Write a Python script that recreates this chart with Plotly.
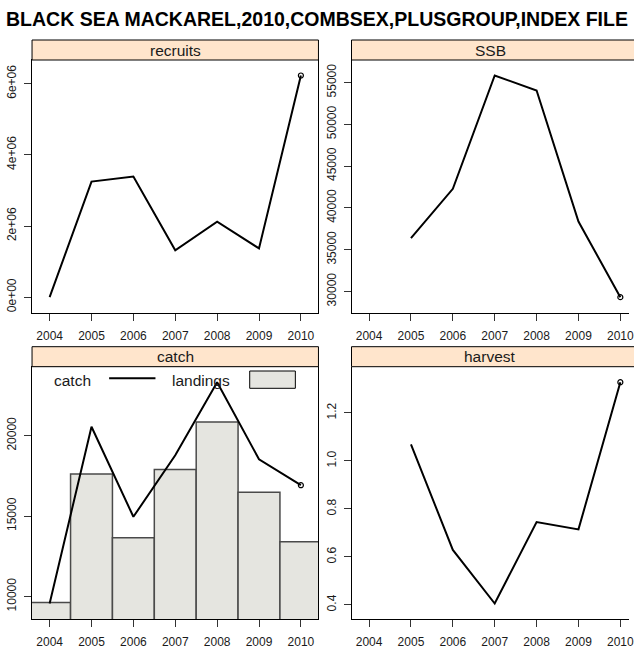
import plotly.graph_objects as go

# ---- data ----
years = [2004, 2005, 2006, 2007, 2008, 2009, 2010]
recruits = [0, 3.25e6, 3.39e6, 1.32e6, 2.12e6, 1.37e6, 6.23e6]
ssb = [None, 36380, 42280, 55840, 54040, 38370, 29320]
catch_vals = [9566, 20558, 14959, 18781, 23326, 18533, 16921]
landings = [9628, 17624, 13657, 17893, 20847, 16488, 13409]
harvest = [None, 1.0685, 0.629, 0.4055, 0.745, 0.7145, 1.328]

year_ticks = [2004, 2005, 2006, 2007, 2008, 2009, 2010]
rec_tickvals = [0, 2e6, 4e6, 6e6]
rec_ticktext = ["0e+00", "2e+06", "4e+06", "6e+06"]
ssb_tickvals = [30000, 35000, 40000, 45000, 50000, 55000]
catch_tickvals = [10000, 15000, 20000]
harv_tickvals = [0.4, 0.6, 0.8, 1.0, 1.2]

title = "BLACK SEA MACKAREL,2010,COMBSEX,PLUSGROUP,INDEX FILE"
panel_names = ["recruits", "SSB", "catch", "harvest"]

# ---- layout geometry (pixels) ----
W, H = 634, 652
FONT = "Liberation Sans, Arial, sans-serif"
TXT = "#1a1a1a"
L_X0, L_X1 = 32.3, 321.0
R_X0 = 354.3
PW = L_X1 - L_X0
T_Y0, T_Y1 = 60.0, 312.7
B_Y0, B_Y1 = 366.7, 619.0
STRIP = 20.0


def pad_range(vals, f=0.07):
    v = [x for x in vals if x is not None]
    lo, hi = min(v), max(v)
    d = (hi - lo) * f
    return [lo - d, hi + d]


xr = pad_range(years)
xr_right = [xr[0], xr[0] + (xr[1] - xr[0]) * (W - R_X0) / PW]

fig = go.Figure()

line_style = dict(color="black", width=2)


def add_series(x, y, xa, ya):
    fig.add_trace(go.Scatter(x=x, y=y, mode="lines", line=line_style,
                             xaxis=xa, yaxis=ya, showlegend=False, connectgaps=False))
    fig.add_trace(go.Scatter(x=[x[-1]], y=[y[-1]], mode="markers",
                             marker=dict(symbol="circle-open", size=5, color="black",
                                         line=dict(width=1.2, color="black")),
                             xaxis=xa, yaxis=ya, showlegend=False, cliponaxis=False))


# bars under catch line
fig.add_trace(go.Bar(x=years, y=landings, width=1, xaxis="x3", yaxis="y3",
                     marker=dict(color="#E5E5E0", line=dict(color="#4a4a4a", width=1.5)),
                     showlegend=False))
add_series(years, recruits, "x", "y")
add_series(years, ssb, "x2", "y2")
add_series(years, catch_vals, "x3", "y3")
add_series(years, harvest, "x4", "y4")


def px_x(a, b):
    return [a / W, min(b / W, 1.0)]


def px_y(top, bottom):
    return [1 - bottom / H, 1 - top / H]


common_x = dict(tickmode="array", tickvals=year_ticks, ticks="outside", ticklen=7,
                tickcolor="#333", tickwidth=1, showgrid=False, zeroline=False,
                tickfont=dict(family=FONT, size=12, color=TXT), ticklabelstandoff=5,
                ticklabeloverflow="allow",
                linecolor="black", linewidth=1, showline=True)
common_y = dict(ticks="outside", ticklen=7, tickcolor="#333", tickwidth=1,
                showgrid=False, zeroline=False, tickangle=-90,
                tickfont=dict(family=FONT, size=12, color=TXT), ticklabelstandoff=3,
                ticklabeloverflow="allow",
                linecolor="black", linewidth=1, showline=True)

fig.update_layout(
    width=W, height=H, autosize=False,
    margin=dict(l=0, r=0, t=0, b=0, pad=0),
    paper_bgcolor="white", plot_bgcolor="white",
    barmode="overlay",
    xaxis=dict(common_x, domain=px_x(L_X0, L_X1), range=xr, anchor="y", mirror=True),
    yaxis=dict(common_y, domain=px_y(T_Y0, T_Y1), range=pad_range(recruits), anchor="x",
               mirror=True, tickmode="array", tickvals=rec_tickvals, ticktext=rec_ticktext),
    xaxis2=dict(common_x, domain=px_x(R_X0, W), range=xr_right, anchor="y2"),
    yaxis2=dict(common_y, domain=px_y(T_Y0, T_Y1), range=pad_range(ssb), anchor="x2",
                tickmode="array", tickvals=ssb_tickvals, tickformat="d"),
    xaxis3=dict(common_x, domain=px_x(L_X0, L_X1), range=xr, anchor="y3", mirror=True),
    yaxis3=dict(common_y, domain=px_y(B_Y0, B_Y1), range=pad_range(catch_vals + landings),
                anchor="x3", mirror=True, tickmode="array", tickvals=catch_tickvals,
                tickformat="d"),
    xaxis4=dict(common_x, domain=px_x(R_X0, W), range=xr_right, anchor="y4"),
    yaxis4=dict(common_y, domain=px_y(B_Y0, B_Y1), range=pad_range(harvest), anchor="x4",
                tickmode="array", tickvals=harv_tickvals, tickformat=".1f"),
)

shapes = []
annots = []
for i, name in enumerate(panel_names):
    sfx = "" if i == 0 else str(i + 1)
    ph = (T_Y1 - T_Y0) if i < 2 else (B_Y1 - B_Y0)
    x1 = 1.0 if i % 2 == 0 else 1.1
    shapes.append(dict(type="rect", xref=f"x{sfx} domain", yref=f"y{sfx} domain",
                       x0=0, x1=x1, y0=1, y1=1 + STRIP / ph,
                       fillcolor="#FFE5CC", line=dict(color="black", width=1), layer="above"))
    annots.append(dict(text=name, xref=f"x{sfx} domain", yref=f"y{sfx} domain",
                       x=0.5, y=1 + (STRIP / 2) / ph, xanchor="center", yanchor="middle",
                       showarrow=False, font=dict(family=FONT, size=15.5, color=TXT)))

# legend inside catch panel
bh = B_Y1 - B_Y0
annots.append(dict(text="catch", xref="x3 domain", yref="y3 domain",
                   x=(72.9 - L_X0) / PW, y=(B_Y1 - 380) / bh, xanchor="center", yanchor="middle",
                   showarrow=False, font=dict(family=FONT, size=15.5, color=TXT)))
annots.append(dict(text="landings", xref="x3 domain", yref="y3 domain",
                   x=(203 - L_X0) / PW, y=(B_Y1 - 380) / bh, xanchor="center", yanchor="middle",
                   showarrow=False, font=dict(family=FONT, size=15.5, color=TXT)))
shapes.append(dict(type="line", xref="x3 domain", yref="y3 domain",
                   x0=(110 - L_X0) / PW, x1=(156.7 - L_X0) / PW,
                   y0=(B_Y1 - 378.3) / bh, y1=(B_Y1 - 378.3) / bh,
                   line=dict(color="black", width=2)))
shapes.append(dict(type="rect", xref="x3 domain", yref="y3 domain",
                   x0=(251.7 - L_X0) / PW, x1=(297.7 - L_X0) / PW,
                   y0=(B_Y1 - 388.3) / bh, y1=(B_Y1 - 371) / bh,
                   fillcolor="#E5E5E0", line=dict(color="black", width=1)))

annots.append(dict(text="<b>" + title + "</b>", xref="paper", yref="paper",
                   x=319.5 / W, y=1 - 18.5 / H, xanchor="center", yanchor="middle",
                   showarrow=False, font=dict(family=FONT, size=19.5, color="black")))

fig.update_layout(shapes=shapes, annotations=annots)
fig.write_html("out.html", config={"displayModeBar": False},
               post_script="document.body.style.margin='0';document.body.style.padding='0';document.body.style.overflow='hidden';")
